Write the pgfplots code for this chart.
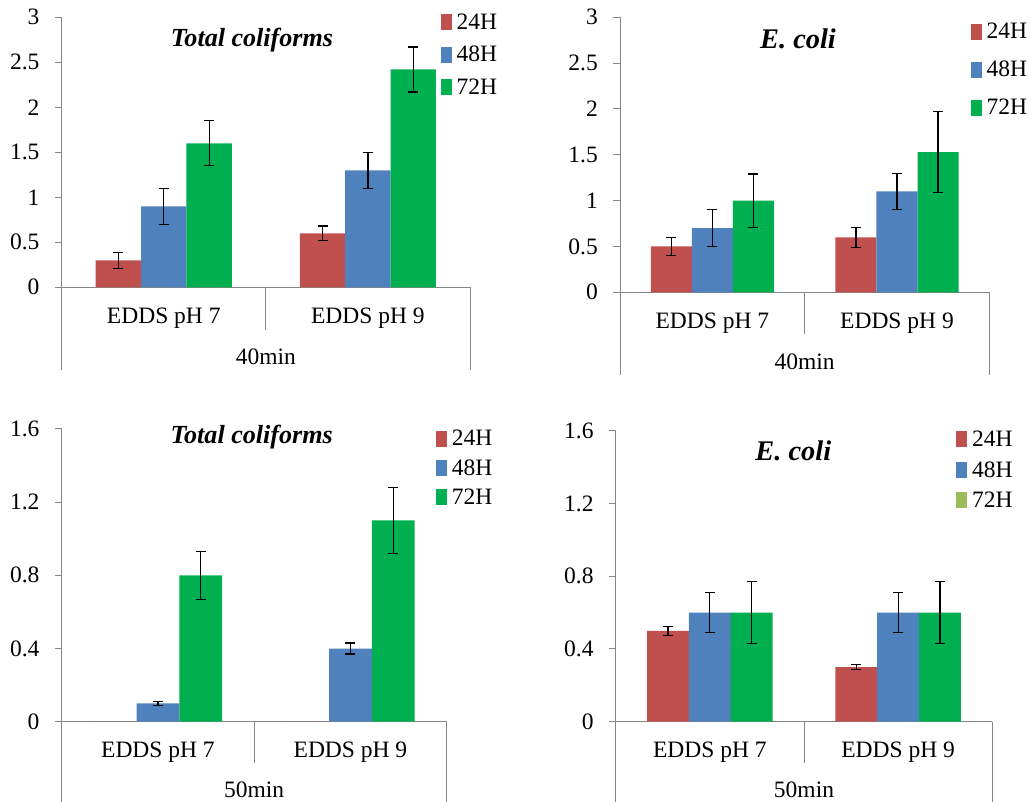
\documentclass[border=0pt]{standalone}
\usepackage{fontspec}
\setmainfont{Liberation Serif}
\usepackage{pgfplots}
\pgfplotsset{compat=1.18}
\definecolor{cred}{HTML}{C0504D}
\definecolor{cblue}{HTML}{4F81BD}
\definecolor{cgreen}{HTML}{00B050}
\definecolor{colive}{HTML}{9BBB59}
\definecolor{axgray}{HTML}{868686}
\newcommand\lbl{\fontsize{23.5}{28}\selectfont}
\newcommand\ttlA{\fontsize{26.1}{30}\selectfont\bfseries\itshape}
\newcommand\ttlB{\fontsize{28.4}{33}\selectfont\bfseries\itshape}
\newcommand\lgt[1]{\raisebox{0pt}[16pt][0pt]{#1}}
\tikzset{frame/.style={axgray, line width=1pt}}
\pgfplotsset{
  panel/.style={
    scale only axis, anchor=south west, clip=false,
    xmin=-0.5, xmax=1.5, ymin=0,
    axis lines*=left,
    axis line style={draw=axgray, line width=1pt},
    xtick=\empty,
    every tick/.style={draw=axgray, line width=1pt},
    tick align=outside, major tick length=7pt,
    yticklabel style={font=\lbl, inner sep=0pt, xshift=-15pt},
    /pgf/number format/assume math mode=true,
    legend cell align=left,
    legend style={draw=none, fill=none, inner sep=0pt, outer sep=0pt, anchor=north west, font=\lbl, column sep=5pt, nodes={inner sep=0pt}},
  },
  bars/.style={ybar, bar width=0.2222, bar shift=0pt, draw=none, fill=#1,
     legend image code/.code={\fill[##1] (0pt,-5.5pt) rectangle (11pt,5.5pt);
       \path (0pt,-8pt) rectangle (11pt,8pt);}},
  eb/.style={error bars/.cd, y dir=both, y explicit,
     error bar style={black, line width=1.2pt},
     error mark options={rotate=90, mark size=5pt, black, line width=1.2pt}},
}
\begin{document}
\begin{tikzpicture}
\path[use as bounding box] (0,0) rectangle (1030pt,802pt);
% ---------- Panel 1 ----------
\begin{axis}[panel, at={(61.7pt,514.7pt)}, width=408.3pt, height=270pt,
  ymax=3, ytick={0,0.5,1,1.5,2,2.5,3},
  legend style={at={(0.9282,1.0148)}, row sep=15.2pt}]
\addplot[bars=cred, eb] table[x=x,y=y,y error=e]{
x y e
-0.2222 0.3 0.09
0.7778 0.6 0.08
};
\addplot[bars=cblue, eb] table[x=x,y=y,y error=e]{
x y e
0 0.9 0.2
1 1.3 0.2
};
\addplot[bars=cgreen, eb] table[x=x,y=y,y error=e]{
x y e
0.2222 1.6 0.25
1.2222 2.42 0.25
};
\legend{\lgt{24H},\lgt{48H},\lgt{72H}}
\draw[frame] (axis cs:-0.5,0) -- ++(0pt,-82.7pt);
\draw[frame] (axis cs:0.5,0) -- ++(0pt,-42.7pt);
\draw[frame] (axis cs:1.5,0) -- ++(0pt,-82.7pt);
\node[font=\lbl, anchor=base, yshift=-36pt] at (axis cs:0,0) {EDDS pH 7};
\node[font=\lbl, anchor=base, yshift=-36pt] at (axis cs:1,0) {EDDS pH 9};
\node[font=\lbl, anchor=base, yshift=-77.7pt] at (axis cs:0.5,0) {40min};
\node[font=\ttlA, anchor=base] at (axis description cs:0.466,0.891) {Total coliforms};
\end{axis}
% ---------- Panel 2 ----------
\begin{axis}[panel, at={(620pt,509.7pt)}, width=369.3pt, height=275pt,
  ymax=3, ytick={0,0.5,1,1.5,2,2.5,3},
  legend style={at={(0.9496,0.9793)}, row sep=20.5pt}]
\addplot[bars=cred, eb] table[x=x,y=y,y error=e]{
x y e
-0.2222 0.5 0.1
0.7778 0.6 0.11
};
\addplot[bars=cblue, eb] table[x=x,y=y,y error=e]{
x y e
0 0.7 0.2
1 1.1 0.2
};
\addplot[bars=cgreen, eb] table[x=x,y=y,y error=e]{
x y e
0.2222 1.0 0.29
1.2222 1.53 0.445
};
\legend{\lgt{24H},\lgt{48H},\lgt{72H}}
\draw[frame] (axis cs:-0.5,0) -- ++(0pt,-82.7pt);
\draw[frame] (axis cs:0.5,0) -- ++(0pt,-42pt);
\draw[frame] (axis cs:1.5,0) -- ++(0pt,-82.7pt);
\node[font=\lbl, anchor=base, yshift=-36pt] at (axis cs:0,0) {EDDS pH 7};
\node[font=\lbl, anchor=base, yshift=-36pt] at (axis cs:1,0) {EDDS pH 9};
\node[font=\lbl, anchor=base, yshift=-77.7pt] at (axis cs:0.5,0) {40min};
\node[font=\ttlB, anchor=base] at (axis description cs:0.482,0.8847) {E. coli};
\end{axis}
% ---------- Panel 3 ----------
\begin{axis}[panel, at={(61.7pt,80.3pt)}, width=385pt, height=292.7pt,
  ymax=1.6, ytick={0,0.4,0.8,1.2,1.6},
  legend style={at={(0.9722,0.9966)}, row sep=11.6pt}]
\addplot[bars=cred] table[x=x,y=y]{
x y
-0.2222 0
0.7778 0
};
\addplot[bars=cblue, eb] table[x=x,y=y,y error=e]{
x y e
0 0.1 0.01
1 0.4 0.03
};
\addplot[bars=cgreen, eb] table[x=x,y=y,y error=e]{
x y e
0.2222 0.8 0.13
1.2222 1.1 0.18
};
\legend{\lgt{24H},\lgt{48H},\lgt{72H}}
\draw[frame] (axis cs:-0.5,0) -- ++(0pt,-82pt);
\draw[frame] (axis cs:0.5,0) -- ++(0pt,-41.6pt);
\draw[frame] (axis cs:1.5,0) -- ++(0pt,-82pt);
\node[font=\lbl, anchor=base, yshift=-35.6pt] at (axis cs:0,0) {EDDS pH 7};
\node[font=\lbl, anchor=base, yshift=-35.6pt] at (axis cs:1,0) {EDDS pH 9};
\node[font=\lbl, anchor=base, yshift=-75.5pt] at (axis cs:0.5,0) {50min};
\node[font=\ttlA, anchor=base] at (axis description cs:0.4935,0.951) {Total coliforms};
\end{axis}
% ---------- Panel 4 ----------
\begin{axis}[panel, at={(615.7pt,80.3pt)}, width=376.6pt, height=291pt,
  ymax=1.6, ytick={0,0.4,0.8,1.2,1.6},
  legend style={at={(0.9036,1.0)}, row sep=13pt}]
\addplot[bars=cred, eb] table[x=x,y=y,y error=e]{
x y e
-0.2222 0.5 0.025
0.7778 0.3 0.015
};
\addplot[bars=cblue, eb] table[x=x,y=y,y error=e]{
x y e
0 0.6 0.11
1 0.6 0.11
};
\addplot[bars=cgreen, forget plot, eb] table[x=x,y=y,y error=e]{
x y e
0.2222 0.6 0.17
1.2222 0.6 0.17
};
\addlegendimage{bars=colive}
\legend{\lgt{24H},\lgt{48H},\lgt{72H}}
\draw[frame] (axis cs:-0.5,0) -- ++(0pt,-82pt);
\draw[frame] (axis cs:0.5,0) -- ++(0pt,-41.6pt);
\draw[frame] (axis cs:1.5,0) -- ++(0pt,-82pt);
\node[font=\lbl, anchor=base, yshift=-35.6pt] at (axis cs:0,0) {EDDS pH 7};
\node[font=\lbl, anchor=base, yshift=-35.6pt] at (axis cs:1,0) {EDDS pH 9};
\node[font=\lbl, anchor=base, yshift=-75.5pt] at (axis cs:0.5,0) {50min};
\node[font=\ttlB, anchor=base] at (axis description cs:0.4716,0.899) {E. coli};
\end{axis}
\end{tikzpicture}
\end{document}
